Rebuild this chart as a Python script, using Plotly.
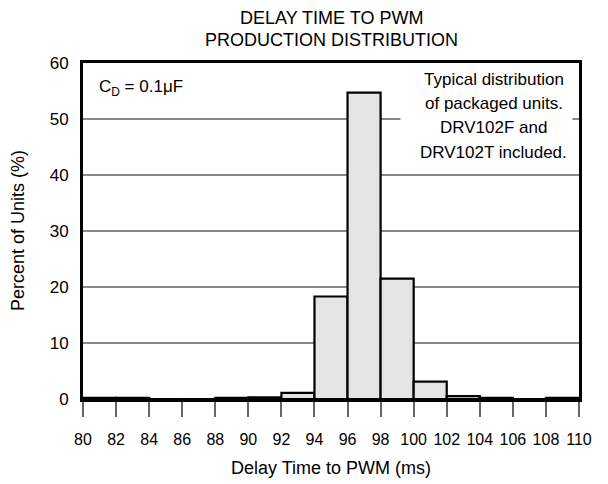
import plotly.graph_objects as go

bin_starts = [80, 82, 84, 86, 88, 90, 92, 94, 96, 98, 100, 102, 104, 106, 108]
percent_units = [0.2, 0.2, 0.0, 0.0, 0.2, 0.3, 1.1, 18.3, 54.7, 21.5, 3.1, 0.5, 0.2, 0.0, 0.2]
bin_width = 2
x_ticks = list(range(80, 111, 2))
y_ticks = [0, 10, 20, 30, 40, 50, 60]
title_lines = ["DELAY TIME TO PWM", "PRODUCTION DISTRIBUTION"]
note_lines = ["Typical distribution", "of packaged units.", "DRV102F and", "DRV102T included."]
note_y = [57.1, 52.8, 48.4, 44.1]

FONT = "Liberation Sans, Arial, Helvetica, sans-serif"
NARROW = "Liberation Sans Narrow, Arial Narrow, Liberation Sans, Arial, sans-serif"

centers = [s + bin_width / 2 for s in bin_starts]

fig = go.Figure()
fig.add_trace(go.Bar(
    x=centers, y=percent_units, width=[bin_width] * len(centers),
    marker=dict(color="#e4e4e4", line=dict(color="black", width=2.2)),
    showlegend=False, hoverinfo="skip",
))

annotations = []
# title lines
for txt, shift in zip(title_lines, [45, 23]):
    annotations.append(dict(text=txt, x=0.5, y=1, xref="paper", yref="paper",
                            xanchor="center", yanchor="middle", yshift=shift,
                            showarrow=False, font=dict(size=18)))
# axis titles
annotations.append(dict(text="Delay Time to PWM (ms)", x=0.5, y=0, xref="paper", yref="paper",
                        xanchor="center", yanchor="middle", yshift=-69,
                        showarrow=False, font=dict(size=18)))
annotations.append(dict(text="Percent of Units (%)", x=0, y=0.5, xref="paper", yref="paper",
                        xanchor="center", yanchor="middle", xshift=-65, textangle=-90,
                        showarrow=False, font=dict(size=18)))
# C_D label
annotations.append(dict(text="C<sub>D</sub> = 0.1\u03bcF", x=80.85, y=55.5, xref="x", yref="y",
                        xanchor="left", yanchor="middle", showarrow=False,
                        font=dict(size=17)))
for txt, yy in zip(note_lines, note_y):
    annotations.append(dict(text=txt, x=104.85, y=yy, xref="x", yref="y",
                            xanchor="center", yanchor="middle", showarrow=False,
                            font=dict(size=17)))

# white background behind the note (hides the grid line there)
shapes = [dict(type="rect", xref="x", yref="y", x0=99.2, x1=109.6, y0=46.0, y1=58.5,
               fillcolor="white", line=dict(width=0), layer="above")]

fig.update_layout(
    width=608, height=484,
    margin=dict(l=75, r=37, t=55, b=93),
    paper_bgcolor="white", plot_bgcolor="white",
    font=dict(family=FONT, color="black", size=17),
    xaxis=dict(range=[80, 110], tickvals=x_ticks, ticktext=[str(v) for v in x_ticks],
               ticks="outside", ticklen=15, tickcolor="#666", tickwidth=1.5,
               ticklabelstandoff=9,
               showline=True, mirror=True, linecolor="black", linewidth=3,
               showgrid=False, zeroline=False,
               tickfont=dict(size=16, family=NARROW)),
    yaxis=dict(range=[0, 60], tickvals=y_ticks,
               ticks="outside", ticklen=8, tickcolor="rgba(0,0,0,0)",
               showline=True, mirror=True, linecolor="black", linewidth=3,
               showgrid=True, gridcolor="#888", gridwidth=1.5, zeroline=False,
               tickfont=dict(size=17)),
    annotations=annotations,
    shapes=shapes,
)

fig.write_html("out.html")
